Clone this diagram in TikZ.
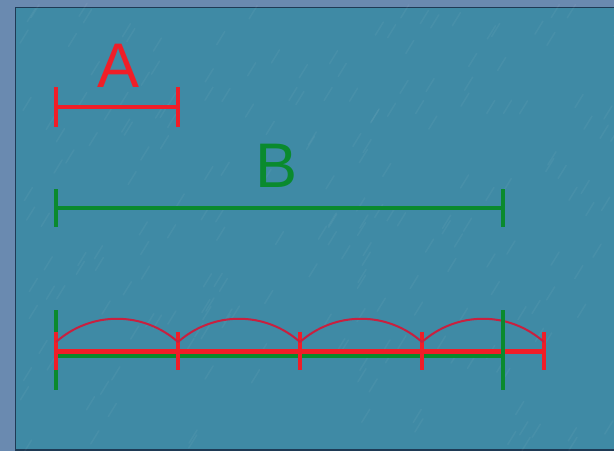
\documentclass[tikz,border=0pt]{standalone}
\usepackage{fontspec}
\setmainfont{Liberation Sans}

\definecolor{outerblue}{HTML}{6A8AB0}
\definecolor{water}{HTML}{3F8AA5}
\definecolor{rim}{HTML}{1E3A55}
\definecolor{segred}{HTML}{F01E28}
\definecolor{arcred}{HTML}{C8203F}
\definecolor{seggreen}{HTML}{0A8A2E}

\tikzset{
  redseg/.style={segred, line width=4pt},
  greenseg/.style={seggreen, line width=4pt},
  hop/.style={arcred, line width=2pt},
  lbl/.style={font=\fontsize{63}{70}\selectfont, inner sep=0pt, anchor=base}
}

\begin{document}
\begin{tikzpicture}[x=1pt, y=-1pt]

   \useasboundingbox (0,0) rectangle (614,451);
   \clip (0,0) rectangle (614,451);
   \fill[outerblue] (0,0) rectangle (614,451);
   \filldraw[fill=water, draw=rim, line width=1.5pt] (15.5,7.5) rectangle (630,450);

   % streaks of the texture
   \pgfmathsetseed{11}
   \foreach \i in {1,...,220} {
     \pgfmathsetmacro\sx{20+rnd*600}
     \pgfmathsetmacro\sy{15+rnd*440}
     \draw[white, opacity=.045, line width=1.5pt, line cap=round] (\sx,\sy) -- ++(8,-13);
   }

   % A and B
   \coordinate (a0) at (56,107);
   \coordinate (a1) at (178,107);
   \coordinate (b0) at (56,208);
   \coordinate (b1) at (503,208);
   \node[lbl, segred] (labA) at (119,87) {A};
   \node[lbl, seggreen] (labB) at (277,187) {B};

   \draw[redseg] (a0) -- (a1);
   \foreach \p in {a0,a1}
     \draw[redseg] (\p) ++(0,-20) -- ++(0,40);
   \draw[greenseg] (b0) -- (b1);
   \foreach \p in {b0,b1}
     \draw[greenseg] (\p) ++(0,-19) -- ++(0,38);

   % B measured with A
   \coordinate (g0) at (56,355);
   \coordinate (g1) at (503,355);
   \draw[greenseg, line width=6pt] (g0) -- (g1);
   \draw[greenseg] (g0) ++(0,-45) -- ++(0,80);

   \foreach [count=\i from 0] \x in {56,178,300,422,544} {
     \coordinate (m\i) at (\x,351);
     \coordinate (h\i) at (\x,342);
   }
   \draw[redseg, line width=5pt] (m0) -- (m4);
   \foreach \i in {0,...,4}
     \draw[redseg] (m\i) ++(0,-19) -- ++(0,38);
   \foreach \i/\j in {0/1, 1/2, 2/3, 3/4}
     \draw[hop] (h\i) .. controls +(35,-31) and +(-35,-31) .. (h\j);

   \draw[greenseg] (g1) ++(0,-45) -- ++(0,80);

\end{tikzpicture}
\end{document}
